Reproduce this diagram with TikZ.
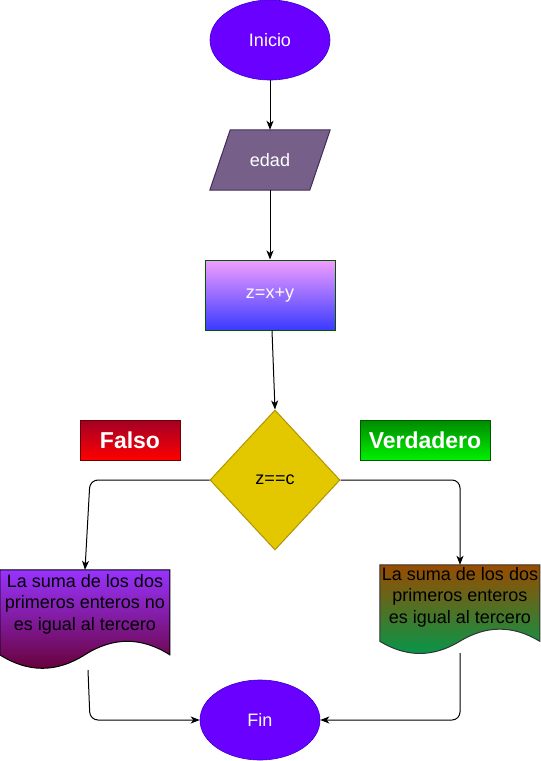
\documentclass[tikz,border=0pt]{standalone}
\usepackage{fontspec}
\setmainfont{Liberation Sans}
\usetikzlibrary{arrows.meta,shapes.geometric,calc}
\definecolor{termfill}{HTML}{6A00FF}
\definecolor{termline}{HTML}{3700CC}
\definecolor{iofill}{HTML}{76608A}
\definecolor{ioline}{HTML}{432D57}
\definecolor{calctop}{HTML}{F29EFF}
\definecolor{calcbot}{HTML}{3A3AFF}
\definecolor{gline}{HTML}{005700}
\definecolor{diafill}{HTML}{E3C800}
\definecolor{dialine}{HTML}{B09500}
\definecolor{ftop}{HTML}{A20025}
\definecolor{fbot}{HTML}{FF0000}
\definecolor{fline}{HTML}{6F0000}
\definecolor{vtop}{HTML}{008A00}
\definecolor{vbot}{HTML}{00F000}
\definecolor{dltop}{HTML}{9933FF}
\definecolor{dlbot}{HTML}{660033}
\definecolor{drtop}{HTML}{994C00}
\definecolor{drbot}{HTML}{00994D}
\begin{document}
\begin{tikzpicture}[x=1pt,y=-1pt,
  base/.style={font=\fontsize{18}{21.6}\selectfont, inner sep=0pt},
  term/.style={base, ellipse, fill=termfill, draw=termline, line width=0.6pt,
    minimum width=120pt, minimum height=80pt, text=white},
  label/.style={base, draw, line width=1pt, minimum width=100pt, minimum height=40pt,
    text=white, font=\fontsize{23}{27}\selectfont\bfseries},
  doctext/.style={base, align=center, text=black},
  arr/.style={draw, line width=1pt, rounded corners=8pt,
    -{Stealth[length=9pt,width=7pt,inset=2.5pt]}},
  conn/.style={draw, line width=1pt, rounded corners=8pt}
]
\fill[white] (0,0) rectangle (541,761);
\useasboundingbox (0,0) rectangle (541,761);

% nodes
\node[term] (inicio) at (270,40) {Inicio};
\node[base, minimum width=120pt, minimum height=60pt] (edad) at (270,160) {};
\draw[fill=iofill, draw=ioline, line width=1pt]
  (edad.south west) -- ([xshift=100pt]edad.south west) -- (edad.north east)
  -- ([xshift=-100pt]edad.north east) -- cycle;
\node[base, text=white] (edadt) at (270,160) {edad};

\node[base, draw=gline, line width=1pt, top color=calctop, bottom color=calcbot,
  minimum width=130pt, minimum height=70pt, text=white] (calc) at (270,295) {z=x+y};

\node[base, diamond, fill=diafill, draw=dialine, line width=1pt,
  minimum width=130pt, minimum height=140pt] (dia) at (275,480) {z==c};

\node[label, draw=fline, top color=ftop, bottom color=fbot] (falso) at (130,440) {Falso};
\node[label, draw=gline, top color=vtop, bottom color=vbot, minimum width=130pt]
  (verd) at (425,440) {Verdadero};

% left document
\node[base, minimum width=170pt, minimum height=100pt] (docL) at (85,620) {};
\begin{scope}[shift={(docL.north west)}]
  \path[draw=black, line width=1pt, top color=dltop, bottom color=dlbot]
    (0,0) -- (170,0) -- (170,85)
    .. controls (141.67,67) and (113.33,67) .. (85,85)
    .. controls (56.67,103) and (28.33,103) .. (0,85) -- cycle;
\end{scope}
\node[doctext] (docLt) at (85,604) {La suma de los dos\\primeros enteros no\\es igual al tercero};

% right document
\node[base, minimum width=160pt, minimum height=90pt] (docR) at (460,610) {};
\begin{scope}[shift={(docR.north west)}]
  \path[draw=black!80, line width=1pt, top color=drtop, bottom color=drbot]
    (0,0) -- (160,0) -- (160,76.5)
    .. controls (133.33,60.3) and (106.67,60.3) .. (80,76.5)
    .. controls (53.33,92.7) and (26.67,92.7) .. (0,76.5) -- cycle;
\end{scope}
\node[doctext] (docRt) at (460,597) {La suma de los dos\\primeros enteros\\es igual al tercero};

\node[term] (fin) at (260,720) {Fin};

% connectors
\draw[arr] (inicio.south) -- (edad.north);
\draw[arr] (edad.south) -- (calc.north);
\draw[arr] ([xshift=2pt]calc.south) -- (dia.north);
\draw[arr] (dia.west) -- ([xshift=5pt]dia.west -| docL.north) -- (docL.north);
\draw[arr] (dia.east) -- (dia.east -| docR.north) -- (docR.north);
\draw[arr] ([xshift=3pt]docL.south) -- ([xshift=5pt]docL.south |- fin.west) -- (fin.west);
\draw[arr] ([yshift=2pt]docR.south) -- (docR.south |- fin.east) -- (fin.east);
\end{tikzpicture}
\end{document}
